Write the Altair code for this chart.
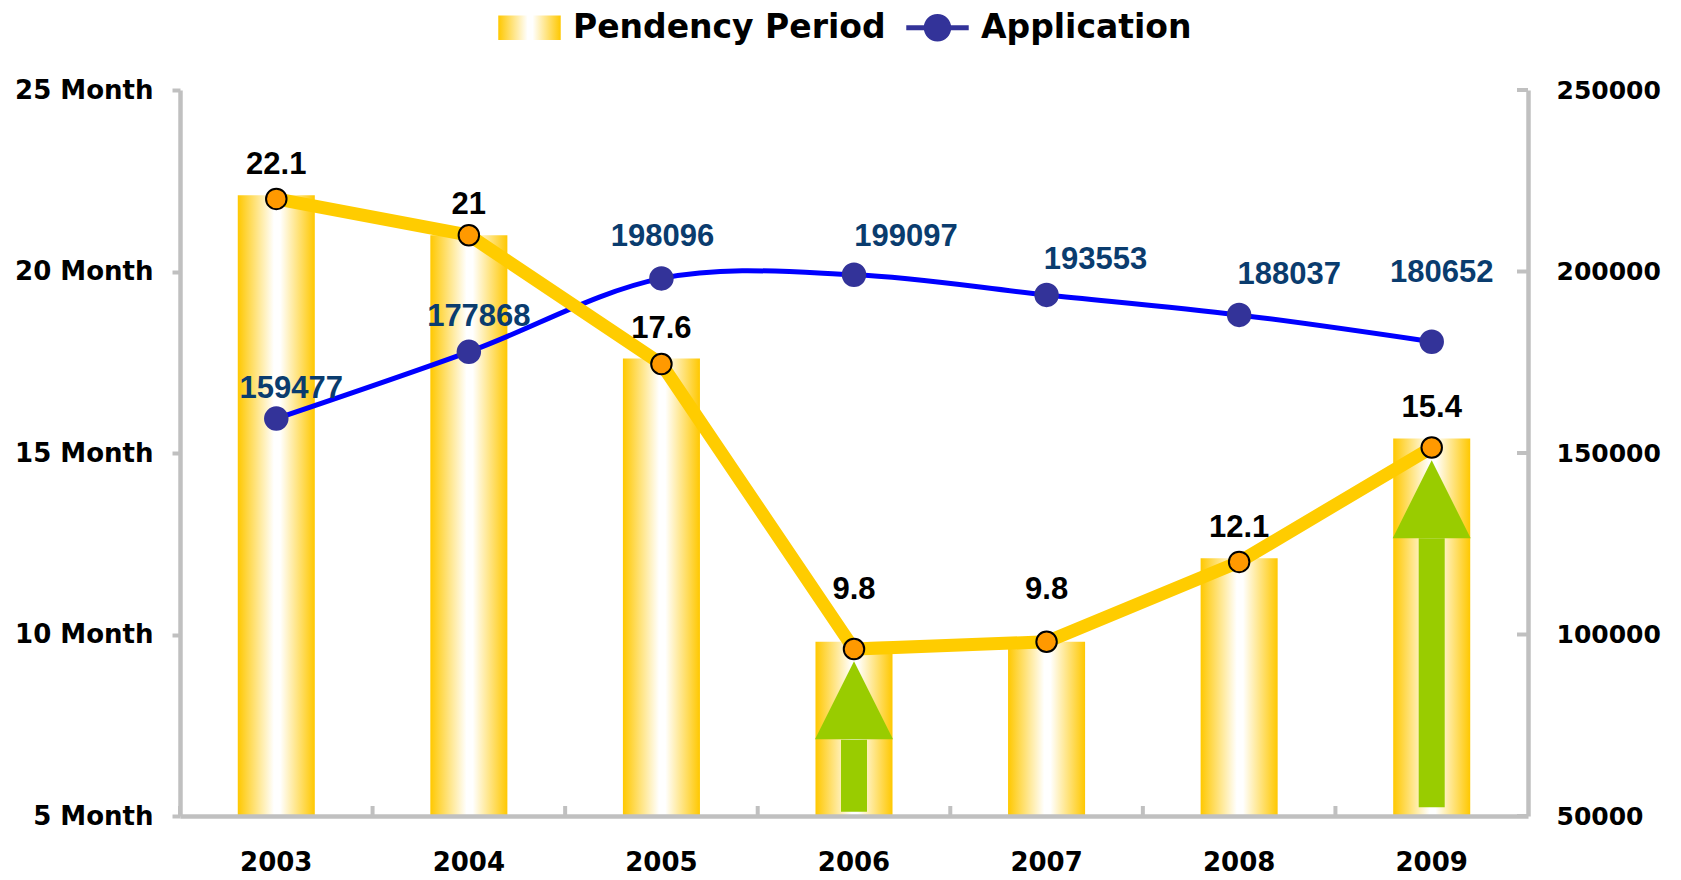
import altair as alt
import pandas as pd

# ---------------- data ----------------
years = ["2003", "2004", "2005", "2006", "2007", "2008", "2009"]
pendency = [22.1, 21, 17.6, 9.8, 9.8, 12.1, 15.4]
pendency_labels = ["22.1", "21", "17.6", "9.8", "9.8", "12.1", "15.4"]
pendency_line = [22.0, 21.0, 17.45, 9.6, 9.8, 12.0, 15.15]
applications = [159477, 177868, 198096, 199097, 193553, 188037, 180652]
arrow_years = ["2006", "2009"]
arrow_tip = [9.26, 14.8]
arrow_neck = [7.1, 12.65]
arrow_tail = [5.12, 5.24]
left_ticks = [5, 10, 15, 20, 25]
right_ticks = [50000, 100000, 150000, 200000, 250000]
series = ["Pendency Period", "Application"]

# ---------------- tables ----------------
NBSP = "\u00a0"
legend_names = [series[0], NBSP + NBSP + series[1]]   # extra gap before second legend label

df = pd.DataFrame({
    "year": years,
    "pendency": pendency,
    "plabel": pendency_labels,
    "pline": pendency_line,
    "app": applications,
    "alabel": [str(v) for v in applications],
})
arrows = pd.DataFrame({"year": arrow_years, "tip": arrow_tip, "neck": arrow_neck, "tail": arrow_tail})
rticks = pd.DataFrame({"tick": right_ticks})
leg = pd.DataFrame({"series": legend_names})

W, H = 1348, 726
GRAY = "#C0C0C0"
AXFONT = "DejaVu Sans"
LBLFONT = "Liberation Sans"

x_axis = alt.Axis(orient="bottom", title=None, labelAngle=0, ticks=False, tickSize=0,
                  labelPadding=46, labelBaseline="middle", domainColor=GRAY, domainWidth=4.5,
                  labelFont=AXFONT, labelFontWeight="bold", labelFontSize=26, labelColor="black",
                  grid=False, zindex=1)
x_scale = alt.Scale(domain=years, paddingInner=0, paddingOuter=0)


def xenc(**kw):
    return alt.X("year:N", scale=x_scale, axis=x_axis, **kw)


left_scale = alt.Scale(domain=[5, 25], zero=False, nice=False)
right_scale = alt.Scale(domain=[50000, 250000], zero=False, nice=False)

left_axis = alt.Axis(orient="left", values=left_ticks, labelExpr="datum.value + ' Month'",
                     title=None, grid=False, domainColor=GRAY, domainWidth=4.5,
                     tickColor=GRAY, tickWidth=4, tickSize=8, labelPadding=19,
                     labelFont=AXFONT, labelFontWeight="bold", labelFontSize=26,
                     labelColor="black", labelFlush=False, labelOverlap=False, zindex=1)
right_axis = alt.Axis(orient="right", values=right_ticks, format="d", title=None, grid=False,
                      domainColor=GRAY, domainWidth=4.5, ticks=False, tickSize=0,
                      labelPadding=28, labelFont=AXFONT, labelFontWeight="bold",
                      labelFontSize=25, labelColor="black", labelFlush=False,
                      labelOverlap=False, zindex=1)

YEL = "#FFC800"
grad = alt.LinearGradient(
    gradient="linear",
    stops=[alt.GradientStop(color=YEL, offset=0),
           alt.GradientStop(color="#FFFFFF", offset=0.47),
           alt.GradientStop(color="#FFFFFF", offset=0.55),
           alt.GradientStop(color=YEL, offset=1)],
    x1=0, x2=1, y1=0, y2=0)
grad_expr = ("{gradient: 'linear', x1: 0, y1: 0, x2: 1, y2: 0, stops: ["
             "{offset: 0, color: '#FFC800'}, {offset: 0.47, color: '#FFFFFF'}, "
             "{offset: 0.55, color: '#FFFFFF'}, {offset: 1, color: '#FFC800'}]}")

rect_path = "M-1,-0.39 L1,-0.39 L1,0.39 L-1,0.39 Z"
line_path = ("M-1,-0.08 L1,-0.08 L1,0.08 L-1,0.08 Z "
             "M0.44,0 A0.44,0.44 0 1 1 -0.44,0 A0.44,0.44 0 1 1 0.44,0 Z")


def build(swatch_fill):
    # ---------------- group 1: bars, x ticks, legend ----------------
    bars = alt.Chart(df).mark_bar(fill=grad, width={"band": 0.4}).encode(
        x=xenc(),
        y=alt.Y("pendency:Q", scale=left_scale, axis=left_axis),
        y2=alt.datum(5),
    )
    xticks = alt.Chart(df).mark_rule(color=GRAY, strokeWidth=4).encode(
        x=xenc(bandPosition=0),
        y=alt.value(H - 10),
        y2=alt.value(H),
    )
    legend = alt.Legend(orient="none", legendX=318, legendY=-94, direction="horizontal",
                        title=None, labelFont=AXFONT, labelFontWeight="bold", labelFontSize=33,
                        labelColor="black", labelLimit=600, symbolSize=3900,
                        symbolStrokeWidth=0, symbolOpacity=1, labelOffset=12,
                        columnPadding=20, padding=0)
    legend_layer = alt.Chart(leg).mark_point(filled=True, opacity=0).encode(
        x=alt.value(0), y=alt.value(0),
        color=alt.Color("series:N",
                        scale=alt.Scale(domain=legend_names, range=[swatch_fill, "#333399"]),
                        legend=legend),
        shape=alt.Shape("series:N",
                        scale=alt.Scale(domain=legend_names, range=[rect_path, line_path]),
                        legend=legend),
    )
    g1 = alt.layer(bars, xticks, legend_layer)

    # ---------------- group 2: applications (right axis) ----------------
    def yR(field):
        return alt.Y(f"{field}:Q", scale=right_scale, axis=right_axis)

    app_line = alt.Chart(df).mark_line(color="#0000FF", strokeWidth=5,
                                       interpolate="cardinal").encode(x=xenc(), y=yR("app"))
    app_pts = alt.Chart(df).mark_circle(size=600, color="#333399", opacity=1).encode(
        x=xenc(), y=yR("app"))

    def app_text(sel, dx, dy):
        return alt.Chart(df).transform_filter(
            alt.FieldOneOfPredicate(field="year", oneOf=sel)
        ).mark_text(font=LBLFONT, fontWeight="bold", fontSize=31, color="#0A3C6E",
                    dx=dx, dy=dy, align="center", baseline="middle").encode(
            x=xenc(), y=yR("app"), text="alabel:N")

    rtick_rules = alt.Chart(rticks).mark_rule(color=GRAY, strokeWidth=4).encode(
        y=yR("tick"), x=alt.value(W - 11), x2=alt.value(W))
    g2 = alt.layer(rtick_rules, app_line, app_pts,
                   app_text(["2003"], 15, -30),
                   app_text(["2004"], 10, -35),
                   app_text(["2005"], 1, -41),
                   app_text(["2006"], 52, -38),
                   app_text(["2007"], 49, -35),
                   app_text(["2008"], 50, -40),
                   app_text(["2009"], 10, -69))

    # ---------------- group 3: arrows, pendency line, labels ----------------
    def yF(field):
        return alt.Y(f"{field}:Q", scale=left_scale, axis=None)

    shafts = alt.Chart(arrows).mark_bar(width=26, color="#99CC00").encode(
        x=xenc(), y=yF("neck"), y2="tail:Q")
    heads = alt.Chart(arrows).mark_point(shape="M0,0 L1,2 L-1,2 Z", size=6084, filled=True,
                                         color="#99CC00", opacity=1, strokeWidth=0).encode(
        x=xenc(), y=yF("tip"))
    pline = alt.Chart(df).mark_line(color="#FFCC00", strokeWidth=13).encode(
        x=xenc(), y=yF("pline"))
    ppts = alt.Chart(df).mark_circle(size=420, color="#FF9900", stroke="black", strokeWidth=2,
                                     opacity=1).encode(x=xenc(), y=yF("pline"))

    def pend_text(sel, dy):
        return alt.Chart(df).transform_filter(
            alt.FieldOneOfPredicate(field="year", oneOf=sel)
        ).mark_text(font=LBLFONT, fontWeight="bold", fontSize=31, color="black",
                    dy=dy, align="center", baseline="middle").encode(
            x=xenc(), y=yF("pendency"), text="plabel:N")

    g3 = alt.layer(shafts, heads, pline, ppts,
                   pend_text(["2003", "2004", "2005", "2008", "2009"], -30),
                   pend_text(["2006", "2007"], -52))

    return alt.layer(g1, g2, g3).resolve_scale(y="independent").properties(
        width=W, height=H,
        autosize=alt.AutoSizeParams(type="none"),
        padding={"left": 172, "top": 82, "right": 145, "bottom": 62},
    ).configure_view(stroke=None)


try:
    chart = build({"expr": grad_expr})
    chart.to_dict()
except Exception:
    chart = build(YEL)

chart.save("out.html", embed_options={"renderer": "svg", "actions": False})
